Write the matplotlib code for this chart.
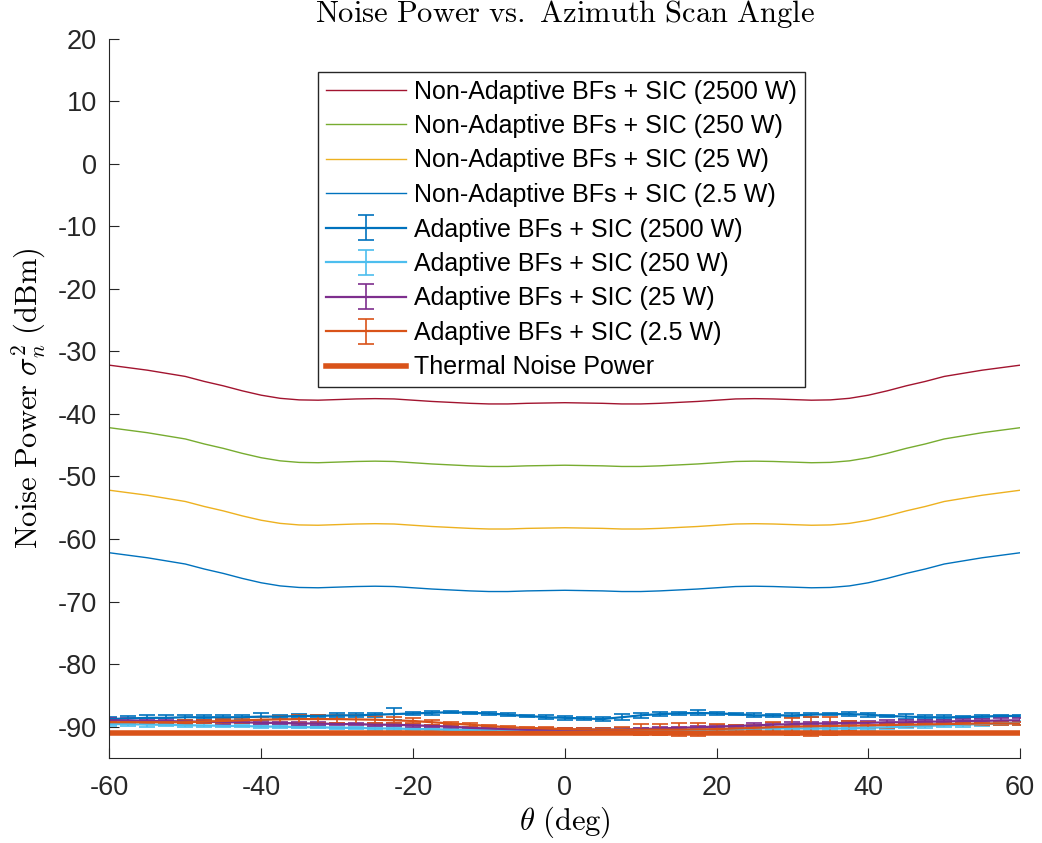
import numpy as np
import matplotlib
matplotlib.use('Agg')
from matplotlib import pyplot as plt

# scan angles (deg), 2.5 deg step
theta = [-60, -57.5, -55, -52.5, -50, -47.5, -45,
         -42.5, -40, -37.5, -35, -32.5, -30, -27.5,
         -25, -22.5, -20, -17.5, -15, -12.5, -10,
         -7.5, -5, -2.5, 0, 2.5, 5, 7.5,
         10, 12.5, 15, 17.5, 20, 22.5, 25,
         27.5, 30, 32.5, 35, 37.5, 40, 42.5,
         45, 47.5, 50, 52.5, 55, 57.5, 60]

# non-adaptive beamformers + SIC (dBm)
na_2500 = [-32.2, -32.6, -33.0, -33.5, -34.0, -34.8, -35.5,
           -36.3, -37.0, -37.5, -37.75, -37.8, -37.7, -37.6,
           -37.55, -37.6, -37.8, -38.0, -38.15, -38.3, -38.4,
           -38.4, -38.3, -38.25, -38.2, -38.25, -38.3, -38.4,
           -38.4, -38.3, -38.15, -38.0, -37.8, -37.6, -37.55,
           -37.6, -37.7, -37.8, -37.75, -37.5, -37.0, -36.3,
           -35.5, -34.8, -34.0, -33.5, -33.0, -32.6, -32.2]
na_250 = [-42.2, -42.6, -43.0, -43.5, -44.0, -44.8, -45.5,
          -46.3, -47.0, -47.5, -47.75, -47.8, -47.7, -47.6,
          -47.55, -47.6, -47.8, -48.0, -48.15, -48.3, -48.4,
          -48.4, -48.3, -48.25, -48.2, -48.25, -48.3, -48.4,
          -48.4, -48.3, -48.15, -48.0, -47.8, -47.6, -47.55,
          -47.6, -47.7, -47.8, -47.75, -47.5, -47.0, -46.3,
          -45.5, -44.8, -44.0, -43.5, -43.0, -42.6, -42.2]
na_25 = [-52.2, -52.6, -53.0, -53.5, -54.0, -54.8, -55.5,
         -56.3, -57.0, -57.5, -57.75, -57.8, -57.7, -57.6,
         -57.55, -57.6, -57.8, -58.0, -58.15, -58.3, -58.4,
         -58.4, -58.3, -58.25, -58.2, -58.25, -58.3, -58.4,
         -58.4, -58.3, -58.15, -58.0, -57.8, -57.6, -57.55,
         -57.6, -57.7, -57.8, -57.75, -57.5, -57.0, -56.3,
         -55.5, -54.8, -54.0, -53.5, -53.0, -52.6, -52.2]
na_2p5 = [-62.2, -62.6, -63.0, -63.5, -64.0, -64.8, -65.5,
          -66.3, -67.0, -67.5, -67.75, -67.8, -67.7, -67.6,
          -67.55, -67.6, -67.8, -68.0, -68.15, -68.3, -68.4,
          -68.4, -68.3, -68.25, -68.2, -68.25, -68.3, -68.4,
          -68.4, -68.3, -68.15, -68.0, -67.8, -67.6, -67.55,
          -67.6, -67.7, -67.8, -67.75, -67.5, -67.0, -66.3,
          -65.5, -64.8, -64.0, -63.5, -63.0, -62.6, -62.2]

# adaptive beamformers + SIC (dBm) and error bar half-widths
ad_2500 = [-88.8, -88.7, -88.6, -88.6, -88.5, -88.5, -88.5,
           -88.5, -88.4, -88.4, -88.3, -88.3, -88.2, -88.2,
           -88.1, -88.0, -87.9, -87.8, -87.7, -87.8, -87.9,
           -88.1, -88.3, -88.5, -88.6, -88.7, -88.8, -88.5,
           -88.2, -88.0, -87.9, -87.8, -87.9, -88.0, -88.2,
           -88.2, -88.2, -88.1, -88.0, -88.0, -88.1, -88.3,
           -88.4, -88.5, -88.5, -88.5, -88.4, -88.3, -88.3]
ad_2500_err = [0.3, 0.4, 0.5, 0.5, 0.4, 0.3, 0.3,
               0.4, 0.5, 0.3, 0.3, 0.2, 0.3, 0.3,
               0.3, 1.0, 0.3, 0.3, 0.2, 0.2, 0.3,
               0.2, 0.2, 0.3, 0.3, 0.2, 0.3, 0.5,
               0.4, 0.3, 0.3, 0.4, 0.3, 0.2, 0.3,
               0.2, 0.3, 0.3, 0.2, 0.3, 0.3, 0.2,
               0.4, 0.3, 0.3, 0.2, 0.3, 0.2, 0.2]
ad_250 = [-89.6, -89.6, -89.7, -89.7, -89.8, -89.8, -89.9,
          -89.9, -90.0, -90.0, -90.1, -90.1, -90.2, -90.2,
          -90.3, -90.3, -90.4, -90.4, -90.5, -90.5, -90.5,
          -90.5, -90.5, -90.5, -90.5, -90.5, -90.5, -90.5,
          -90.5, -90.5, -90.5, -90.5, -90.4, -90.4, -90.3,
          -90.3, -90.3, -90.3, -90.3, -90.3, -90.2, -90.1,
          -90.0, -89.9, -89.8, -89.7, -89.6, -89.5, -89.4]
ad_250_err = [0.3, 0.3, 0.3, 0.2, 0.2, 0.3, 0.2,
              0.2, 0.2, 0.2, 0.2, 0.2, 0.2, 0.2,
              0.2, 0.2, 0.2, 0.2, 0.2, 0.2, 0.2,
              0.2, 0.2, 0.2, 0.2, 0.2, 0.2, 0.2,
              0.2, 0.2, 0.2, 0.2, 0.2, 0.2, 0.2,
              0.3, 0.3, 0.3, 0.3, 0.3, 0.3, 0.3,
              0.3, 0.3, 0.3, 0.3, 0.3, 0.3, 0.3]
ad_25 = [-89.0, -89.0, -89.1, -89.1, -89.2, -89.2, -89.3,
         -89.3, -89.4, -89.4, -89.5, -89.5, -89.6, -89.6,
         -89.7, -89.7, -89.8, -89.9, -90.0, -90.2, -90.3,
         -90.4, -90.5, -90.5, -90.5, -90.5, -90.5, -90.5,
         -90.4, -90.3, -90.2, -90.1, -90.0, -89.9, -89.8,
         -89.7, -89.6, -89.5, -89.5, -89.4, -89.4, -89.3,
         -89.3, -89.2, -89.2, -89.1, -89.1, -89.0, -89.0]
ad_25_err = [0.3, 0.3, 0.3, 0.3, 0.2, 0.2, 0.3,
             0.2, 0.2, 0.2, 0.2, 0.2, 0.2, 0.2,
             0.2, 0.2, 0.2, 0.2, 0.2, 0.2, 0.2,
             0.2, 0.2, 0.2, 0.2, 0.2, 0.2, 0.2,
             0.2, 0.2, 0.2, 0.2, 0.2, 0.2, 0.3,
             0.3, 0.3, 0.3, 0.3, 0.3, 0.3, 0.3,
             0.3, 0.3, 0.3, 0.3, 0.3, 0.3, 0.3]
ad_2p5 = [-89.3, -89.3, -89.3, -89.3, -89.3, -89.2, -89.1,
          -89.0, -88.9, -88.85, -88.8, -88.8, -88.8, -88.85,
          -88.9, -89.0, -89.1, -89.3, -89.5, -89.7, -89.9,
          -90.1, -90.2, -90.3, -90.4, -90.45, -90.5, -90.5,
          -90.5, -90.5, -90.5, -90.45, -90.4, -90.3, -90.2,
          -90.1, -90.0, -89.95, -89.9, -89.85, -89.8, -89.75,
          -89.7, -89.65, -89.6, -89.55, -89.5, -89.5, -89.5]
ad_2p5_err = [0.2, 0.2, 0.2, 0.2, 0.3, 0.3, 0.3,
              0.4, 0.5, 0.6, 0.7, 0.7, 0.7, 0.7,
              0.6, 0.5, 0.4, 0.4, 0.3, 0.3, 0.2,
              0.2, 0.2, 0.2, 0.2, 0.2, 0.3, 0.4,
              0.9, 0.9, 1.0, 1.0, 0.8, 0.5, 0.4,
              0.8, 1.4, 1.5, 1.5, 0.8, 0.5, 0.4,
              0.3, 0.3, 0.2, 0.2, 0.2, 0.2, 0.2]

thermal_theta = [-60, 60]
thermal = [-91.1, -91.1]

plt.rcParams['mathtext.fontset'] = 'cm'
plt.rcParams['axes.unicode_minus'] = False
plt.rcParams['font.family'] = ['Liberation Sans', 'DejaVu Sans']

fig = plt.figure(figsize=(10.42, 8.43), dpi=100)
ax = fig.add_axes([0.105, 0.101, 0.874, 0.853])

h1, = ax.plot(theta, na_2500, color='#A2142F', lw=1.0, label='Non-Adaptive BFs + SIC (2500 W)')
h2, = ax.plot(theta, na_250, color='#77AC30', lw=1.0, label='Non-Adaptive BFs + SIC (250 W)')
h3, = ax.plot(theta, na_25, color='#EDB120', lw=1.0, label='Non-Adaptive BFs + SIC (25 W)')
h4, = ax.plot(theta, na_2p5, color='#0072BD', lw=1.0, label='Non-Adaptive BFs + SIC (2.5 W)')

eb = dict(lw=1.6, capsize=5.5, elinewidth=1.2, capthick=1.2)
h5 = ax.errorbar(theta, ad_2500, yerr=ad_2500_err, color='#0072BD', label='Adaptive BFs + SIC (2500 W)', **eb)
h6 = ax.errorbar(theta, ad_250, yerr=ad_250_err, color='#4DBEEE', label='Adaptive BFs + SIC (250 W)', **eb)
h7 = ax.errorbar(theta, ad_25, yerr=ad_25_err, color='#7E2F8E', label='Adaptive BFs + SIC (25 W)', **eb)
h8 = ax.errorbar(theta, ad_2p5, yerr=ad_2p5_err, color='#D95319', label='Adaptive BFs + SIC (2.5 W)', **eb)
h9, = ax.plot(thermal_theta, thermal, color='#D95319', lw=4, label='Thermal Noise Power')

ax.set_xlim(-60, 60)
ax.set_ylim(-95, 20)
ax.set_xticks(np.arange(-60, 61, 20))
ax.set_yticks(np.arange(-90, 21, 10))
for s in ['top', 'right']:
    ax.spines[s].set_visible(False)
for s in ['left', 'bottom']:
    ax.spines[s].set_color('#262626')
ax.tick_params(direction='in', labelsize=19.5, colors='#262626', length=7)
ax.tick_params(axis='x', pad=12)
ax.tick_params(axis='y', pad=9)

# title placed in figure coords so it sits right at the top edge
fig.text(0.542, 1 - 14 / 843, r'$\mathrm{Noise\ Power\ vs.\ Azimuth\ Scan\ Angle}$',
         fontsize=22, ha='center', va='center')
ax.set_xlabel(r'$\theta\ \mathrm{(deg)}$', fontsize=22, labelpad=3)
ax.set_ylabel(r'$\mathrm{Noise\ Power}\ \sigma_n^2\ \mathrm{(dBm)}$', fontsize=22, labelpad=7)

handles = [h1, h2, h3, h4, h5, h6, h7, h8, h9]
leg = ax.legend(handles, [h.get_label() for h in handles],
                loc='upper left', bbox_to_anchor=(318 / 1042, 1 - 72 / 843),
                bbox_transform=fig.transFigure, borderaxespad=0, fontsize=18, handlelength=3.2,
                labelspacing=0.42, borderpad=0.3, handletextpad=0.35, fancybox=False, framealpha=1)
leg.get_frame().set_edgecolor('#262626')
leg.get_frame().set_linewidth(1.0)

plt.savefig('out.png', dpi=100)
